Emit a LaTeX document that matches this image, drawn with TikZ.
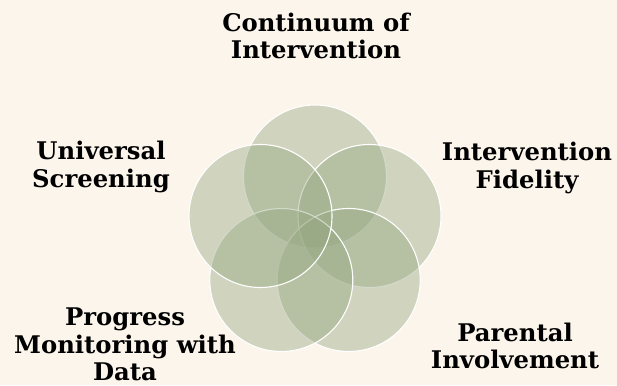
\documentclass[tikz,border=0pt]{standalone}
\usepackage{fontspec}
\setmainfont{DejaVu Serif}
\definecolor{paper}{RGB}{252,245,235}
\definecolor{petal}{RGB}{148,166,128}
\begin{document}
\begin{tikzpicture}[x=1pt,y=-1pt,
  petalnode/.style={circle,minimum size=143pt,inner sep=0pt,draw=white,line width=1.1pt,
    fill=petal,fill opacity=0.42},
  caption/.style={align=center,font=\bfseries\fontsize{24.3}{27.5}\selectfont,text=black,inner sep=0pt}]
  % canvas
  \fill[paper] (0,0) rectangle (617,385);
  \useasboundingbox (0,0) rectangle (617,385);
  % five overlapping petals around (315,234)
  \node[petalnode] (top)  at (315,176.5) {};
  \node[petalnode] (rt)   at (369.5,216) {};
  \node[petalnode] (brt)  at (348.7,280) {};
  \node[petalnode] (blt)  at (281.3,280) {};
  \node[petalnode] (lt)   at (260.5,216) {};
  % captions
  \node[caption] (ctop) at (316,36) {Continuum of\\Intervention};
  \node[caption] (clt)  at (101,167) {Universal\\Screening};
  \node[caption] (crt)  at (527,168) {Intervention\\Fidelity};
  \node[caption] (cblt) at (125,344.5) {Progress\\Monitoring with\\Data};
  \node[caption] (cbrt) at (515,346) {Parental\\Involvement};
\end{tikzpicture}
\end{document}
